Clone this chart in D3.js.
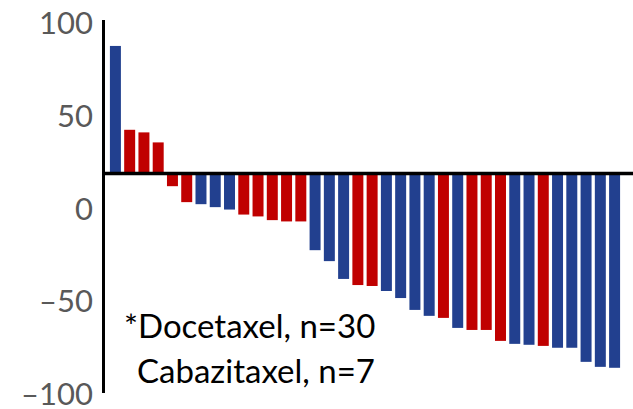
<!DOCTYPE html>
<html>
<head>
<meta charset="utf-8">
<script src="https://cdn.jsdelivr.net/npm/d3@7"></script>
<style>
  html, body { margin: 0; padding: 0; background: #fff; }
  svg { display: block; }
</style>
</head>
<body>
<svg id="chart" width="633" height="409"></svg>
<script>
// Per-patient response, ordered from largest rise to deepest fall (axis units)
const patients = d3.range(1, 37).map(d => "P" + d);
const responses = [
  87.9, 42.7, 41.3, 35.9, 12.3, 3.7, 2.6, 1.0, -0.3, -3.0,
  -4.0, -6.0, -6.7, -6.7, -22.2, -28.1, -37.7, -41.0, -41.5, -44.2,
  -48.0, -54.4, -57.6, -58.7, -64.1, -65.2, -65.2, -71.1, -72.7, -73.2,
  -73.8, -74.8, -74.8, -82.4, -85.1, -85.6
];
// Treatment arm of each patient: D = docetaxel, C = cabazitaxel
const arms = [
  "D", "C", "C", "C", "C", "C", "D", "D", "D", "C",
  "C", "C", "C", "C", "D", "D", "D", "C", "C", "D",
  "D", "D", "D", "C", "D", "C", "C", "C", "D", "D",
  "C", "D", "D", "D", "D", "D"
];
const yTicks = [100, 50, 0, -50, -100];
const baselineValue = 19.1;   // level where the bars start
const legendLines = ["*Docetaxel, n=30", "Cabazitaxel, n=7"];

const armColor = { D: "#22408f", C: "#c00000" };

const svg = d3.select("#chart");

const x = d3.scaleBand()
  .domain(patients)
  .range([104, 626])
  .paddingInner(0.23)
  .paddingOuter(0.415);

const y = d3.scaleLinear()
  .domain([-100, 100])
  .range([394.5, 23.5]);

const data = patients.map((p, i) => ({ id: p, value: responses[i], arm: arms[i] }));

// Bars
svg.append("g")
  .selectAll("rect")
  .data(data)
  .join("rect")
  .attr("x", d => x(d.id))
  .attr("width", x.bandwidth())
  .attr("y", d => y(Math.max(d.value, baselineValue)))
  .attr("height", d => Math.abs(y(d.value) - y(baselineValue)))
  .attr("fill", d => armColor[d.arm]);

// Y axis labels
const yAxis = d3.axisLeft(y)
  .tickValues(yTicks)
  .tickSize(0)
  .tickPadding(0)
  .tickFormat(d => d < 0 ? "\u2013" + Math.abs(d) : String(d));

const gy = svg.append("g")
  .attr("transform", "translate(93,0)")
  .call(yAxis);
gy.select(".domain").remove();
gy.selectAll("text")
  .attr("font-family", "Lato, 'Open Sans', sans-serif")
  .attr("font-size", 31)
  .attr("fill", "#595959")
  .attr("dy", "0.33em");

// Vertical axis line
svg.append("line")
  .attr("x1", 103.5).attr("x2", 103.5)
  .attr("y1", 20).attr("y2", 393)
  .attr("stroke", "#000")
  .attr("stroke-width", 3);

// Baseline
svg.append("line")
  .attr("x1", 102).attr("x2", 633)
  .attr("y1", y(baselineValue)).attr("y2", y(baselineValue))
  .attr("stroke", "#000")
  .attr("stroke-width", 3.5);

// Arm counts
const legend = svg.append("g")
  .attr("font-family", "Lato, 'Open Sans', sans-serif")
  .attr("font-size", 33)
  .attr("fill", "#000");
legend.append("text").attr("x", 124).attr("y", 338).text(legendLines[0]);
legend.append("text").attr("x", 137).attr("y", 383).text(legendLines[1]);
</script>
</body>
</html>
